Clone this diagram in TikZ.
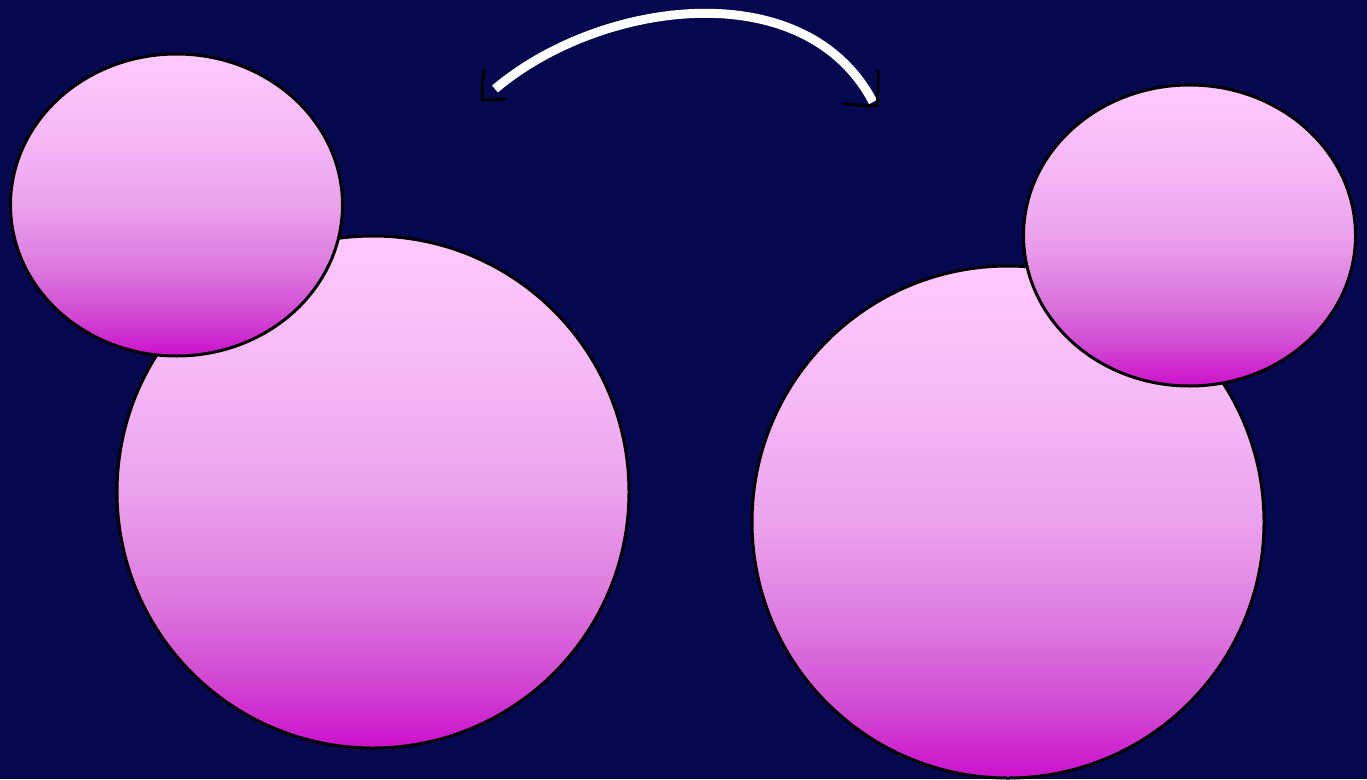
\documentclass[tikz,border=0pt]{standalone}
\definecolor{bg}{HTML}{05074F}
\definecolor{pa}{HTML}{FFC9FF}
\definecolor{pb}{HTML}{F6BAF6}
\definecolor{pc}{HTML}{EBA2EC}
\definecolor{pd}{HTML}{DD7ADF}
\definecolor{pe}{HTML}{D24ED4}
\definecolor{pf}{HTML}{CC11CC}
\pgfdeclareverticalshading{pinkfade}{100bp}{color(0bp)=(pf); color(25bp)=(pf); color(32.5bp)=(pe); color(40bp)=(pd); color(50bp)=(pc); color(62.5bp)=(pb); color(75bp)=(pa); color(100bp)=(pa)}
\tikzset{
  blob/.style={shading=pinkfade, draw=black, line width=3pt},
  arc/.style={draw=white, line width=9pt},
  tipmark/.style={draw=black, line width=3pt, line cap=round, line join=round}
}
\begin{document}
\begin{tikzpicture}[x=1pt,y=-1pt]
\fill[bg] (0,0) rectangle (1367,779);
\useasboundingbox (0,0) rectangle (1367,779);
% left pair
\shade[blob] (373,492) circle[radius=256];
\shade[blob] (176.5,205) ellipse[x radius=166, y radius=151];
% right pair
\shade[blob] (1008,522) circle[radius=256];
\shade[blob] (1189.5,235.5) ellipse[x radius=166, y radius=150.5];
% curved connector
\coordinate (a) at (495,89);
\coordinate (b) at (873,102);
\draw[arc] (a) .. controls (600,0) and (805,-28) .. (b);
\draw[tipmark] (484,70) .. controls (482,85) .. (482,100) -- (505,99);
\draw[tipmark] (878,70) .. controls (878,90) .. (877,106) -- (843,104);
\end{tikzpicture}
\end{document}
